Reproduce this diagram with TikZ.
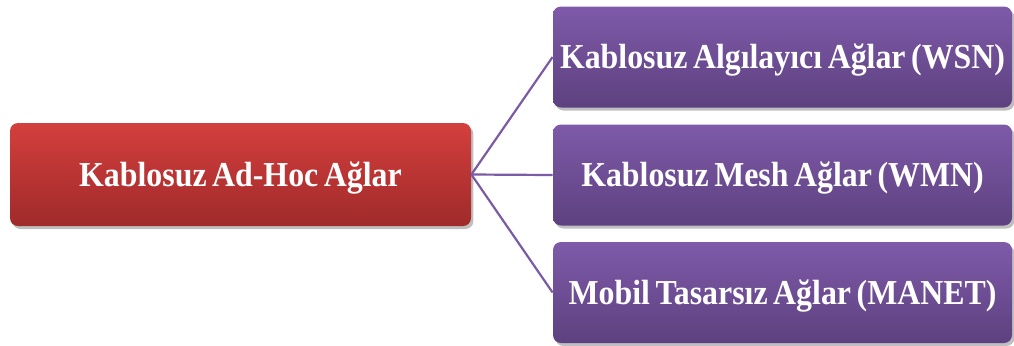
\documentclass[tikz,border=0pt]{standalone}
\usepackage{fontspec}
\setmainfont[FakeStretch=0.91,WordSpace=0.7]{Liberation Serif}
\usetikzlibrary{shadows}
\definecolor{redtop}{HTML}{D33F3D}
\definecolor{redbot}{HTML}{A02A2A}
\definecolor{purtop}{HTML}{7E5AA9}
\definecolor{purbot}{HTML}{5D417F}
\definecolor{linkcol}{HTML}{7B5BA6}
\tikzset{
  box/.style={rounded corners=4pt, inner sep=0pt, text=white,
    font=\bfseries\fontsize{17.5pt}{20pt}\selectfont,
    text height=11.6pt, text depth=0pt,
    drop shadow={shadow xshift=1.2pt, shadow yshift=-1.5pt, opacity=0.25, fill=black}},
  rootbox/.style={box, top color=redtop, bottom color=redbot,
    minimum width=230.5pt, minimum height=51.5pt},
  leafbox/.style={box, top color=purtop, bottom color=purbot,
    minimum width=229.5pt, minimum height=50.5pt},
  link/.style={draw=linkcol, line width=1.1pt}
}
\begin{document}
\begin{tikzpicture}[x=0.5pt,y=-0.5pt]
  \useasboundingbox (0,0) rectangle (1014,345);
  \node[rootbox] (root) at (240.5,174.5) {Kablosuz Ad-Hoc Ağlar};
  \node[leafbox] (wsn) at (782.5,57) {Kablosuz Algılayıcı Ağlar (WSN)};
  \node[leafbox] (wmn) at (782.5,175) {Kablosuz Mesh Ağlar (WMN)};
  \node[leafbox] (manet) at (782.5,292.5) {Mobil Tasarsız Ağlar (MANET)};
  \draw[link] (root.east) -- (wsn.west);
  \draw[link] (root.east) -- (wmn.west);
  \draw[link] (root.east) -- (manet.west);
\end{tikzpicture}
\end{document}
